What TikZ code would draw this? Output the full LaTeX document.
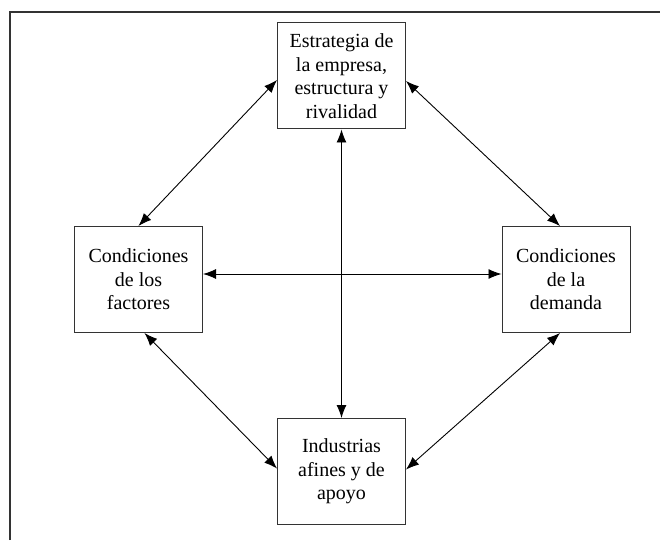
\documentclass[tikz,border=0pt]{standalone}
\usepackage{fontspec}
\setmainfont{Liberation Serif}
\usetikzlibrary{arrows.meta}
\usetikzlibrary{positioning}
\tikzstyle{factor} = [rectangle, draw=black!80, line width=1pt, minimum width=128pt, minimum height=106pt, align=center, inner sep=0pt, font=\fontsize{20}{23.5}\selectfont]
\tikzstyle{arrow} = [line width=0.9pt, {Latex[length=13pt,width=10pt]}-{Latex[length=13pt,width=10pt]}]
\tikzstyle{frame} = [line width=1.2pt, black!80]

\begin{document}
\begin{tikzpicture}[x=1pt, y=-1pt, on grid]
                    \useasboundingbox (0,0) rectangle (660,540);
                    \draw [frame] (10,540) -- (10,12) -- (660,12);
                    \node (estrategia) [factor] at (341.5,76) {Estrategia de\\la empresa,\\estructura y\\rivalidad};
                    \node (factores) [factor, below left = 203.5pt and 203pt of estrategia] {Condiciones\\de los\\factores};
                    \node (demanda) [factor, below right = 203.5pt and 224.5pt of estrategia] {Condiciones\\de la\\demanda};
                    \node (industrias) [factor, below = 395.5pt of estrategia] {Industrias\\afines y de\\apoyo};
                    \draw [arrow] ([yshift=-4pt]estrategia.west) -- (factores.north);
                    \draw [arrow] ([yshift=-5pt]estrategia.east) -- ([xshift=-6pt]demanda.north);
                    \draw [arrow] ([xshift=6pt]factores.south) -- ([yshift=3pt]industrias.west);
                    \draw [arrow] ([xshift=-6pt]demanda.south) -- ([yshift=2pt]industrias.east);
                    \draw [arrow] ([yshift=5.5pt]factores.east) -- ([yshift=5.5pt]demanda.west);
                    \draw [arrow] (estrategia.south) -- (industrias.north);
                \end{tikzpicture}
\end{document}
